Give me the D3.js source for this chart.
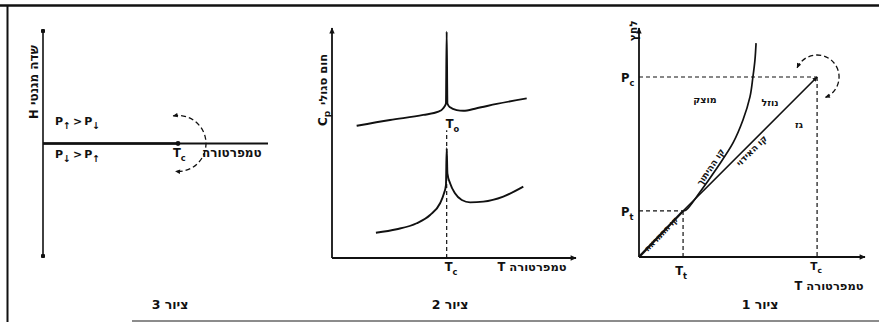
<!DOCTYPE html>
<html>
<head>
<meta charset="utf-8">
<script src="https://cdn.jsdelivr.net/npm/d3@7"></script>
<style>
  body { margin: 0; background: #fff; }
  svg { display: block; }
  text { font-family: "DejaVu Sans", "Liberation Sans", sans-serif; font-weight: bold; fill: #111; }
</style>
</head>
<body>
<svg id="chart" width="879" height="322"></svg>
<script>
// ---------------- data ----------------
// Fig. 1 – pressure / temperature phase diagram (schematic 0–100 units)
const triplePoint   = [19.5, 20.1];          // [T_t, P_t]
const criticalPoint = [78.8, 78.6];          // [T_c, P_c]
const sublimationLine = [[0, 0], [19.5, 20.1]];
const meltingCurve = [
  [19.5, 20.1], [20.8, 20.5], [27.0, 28.4], [34.5, 38.9], [41.6, 49.8],
  [46.0, 59.8], [49.1, 69.9], [50.4, 78.6], [51.3, 86.0], [51.8, 93.4]
];
const vaporizationLine = [[19.5, 20.1], [78.8, 78.6]];
const phaseNames  = ["מוצק", "נוזל", "גז"];
const phaseTemps  = [29.2, 58.0, 70.8];
const phasePress  = [68.6, 67.2, 57.6];
const lineNames   = ["קו ההמראה", "קו ההיתוך", "קו האידוי"];

// Fig. 2 – specific heat around the transition temperature
const transitionT = 47.0;
const cpUpper = [
  [10.1, 57.5], [23.8, 60.0], [37.4, 62.2], [43.6, 63.6], [45.6, 65.1], [46.7, 67.2],
  [47.0, 98.4],
  [47.3, 67.2], [48.4, 65.5], [51.1, 64.3], [53.8, 64.0], [59.3, 65.1], [67.5, 67.0], [79.8, 69.4]
];
const cpLower = [
  [18.0, 11.0], [26.5, 12.5], [34.7, 15.1], [40.2, 18.7], [44.3, 23.8], [45.9, 28.1], [46.7, 31.7],
  [47.0, 47.7],
  [47.3, 36.8], [48.4, 32.5], [50.4, 28.1], [53.2, 25.2], [56.6, 24.2], [62.0, 24.5], [70.2, 26.7], [78.4, 31.0]
];
const cpGuideTop = 55.5;

// Fig. 3 – magnetic field / temperature
const curieT = 60;            // T_c on a 0–100 temperature scale
const fieldLine = [[0, 0], [60, 0]];

// Texts
const captions = ["ציור 1", "ציור 2", "ציור 3"];
const axisTitleT = "טמפרטורה T";

// ---------------- drawing ----------------
const svg = d3.select("#chart");
const ink = "#111";

const defs = svg.append("defs");
defs.append("marker")
  .attr("id", "arrow").attr("viewBox", "0 0 10 10")
  .attr("refX", 9).attr("refY", 5)
  .attr("markerWidth", 7).attr("markerHeight", 6)
  .attr("markerUnits", "userSpaceOnUse")
  .attr("orient", "auto-start-reverse")
  .append("path").attr("d", "M0,0.5L10,5L0,9.5Z").attr("fill", ink);
defs.append("marker")
  .attr("id", "arrowSmall").attr("viewBox", "0 0 10 10")
  .attr("refX", 9).attr("refY", 5)
  .attr("markerWidth", 6).attr("markerHeight", 5)
  .attr("markerUnits", "userSpaceOnUse")
  .attr("orient", "auto-start-reverse")
  .append("path").attr("d", "M0,0.5L10,5L0,9.5Z").attr("fill", ink);
defs.append("marker")
  .attr("id", "dot").attr("viewBox", "0 0 10 10")
  .attr("refX", 5).attr("refY", 5)
  .attr("markerWidth", 4.5).attr("markerHeight", 4.5)
  .attr("markerUnits", "userSpaceOnUse")
  .append("circle").attr("cx", 5).attr("cy", 5).attr("r", 5).attr("fill", ink);

// page frame
svg.append("line").attr("x1", 0).attr("x2", 879).attr("y1", 5.5).attr("y2", 5.5)
  .attr("stroke", ink).attr("stroke-width", 2.5);
svg.append("line").attr("x1", 7.5).attr("x2", 7.5).attr("y1", 5).attr("y2", 322)
  .attr("stroke", ink).attr("stroke-width", 2);
svg.append("line").attr("x1", 132).attr("x2", 879).attr("y1", 321).attr("y2", 321)
  .attr("stroke", "#666").attr("stroke-width", 1.5);

// helpers
function axisLine(g, axis, translate, from, to, markerStart, markerEnd, width) {
  const a = g.append("g").attr("transform", translate).call(axis);
  const d = a.select(".domain")
    .attr("stroke", ink).attr("stroke-width", width || 1.8)
    .attr("d", from + to);
  if (markerStart) d.attr("marker-start", markerStart);
  if (markerEnd) d.attr("marker-end", markerEnd);
  return a;
}
function subLabel(g, x, y, base, s, size, anchor, drop) {
  const t = g.append("text").attr("x", x).attr("y", y)
    .attr("font-size", size).attr("text-anchor", anchor || "start");
  t.append("tspan").text(base);
  t.append("tspan").attr("dy", drop != null ? drop : size * 0.32).attr("font-size", size * 0.72).text(s);
  return t;
}
function rtlText(g, x, y, str, size, anchor) {
  return g.append("text").attr("x", x).attr("y", y)
    .attr("font-size", size).attr("direction", "rtl")
    .attr("text-anchor", anchor || "middle").text(str);
}
function dashed(g, x1, y1, x2, y2) {
  g.append("line").attr("x1", x1).attr("y1", y1).attr("x2", x2).attr("y2", y2)
    .attr("stroke", ink).attr("stroke-width", 1.2).attr("stroke-dasharray", "4,3");
}
function dashedArc(g, cx, cy, r, a0, a1) {
  const p = d3.path();
  p.arc(cx, cy, r, a0 * Math.PI / 180, a1 * Math.PI / 180, false);
  g.append("path").attr("d", p.toString()).attr("fill", "none")
    .attr("stroke", ink).attr("stroke-width", 1.3).attr("stroke-dasharray", "5,3")
    .attr("marker-start", "url(#arrowSmall)").attr("marker-end", "url(#arrowSmall)");
}

// ---------- Fig. 3 (left) ----------
{
  const g = svg.append("g");
  const x = d3.scaleLinear().domain([0, 100]).range([43, 268]);
  const y = d3.scaleLinear().domain([-1, 1]).range([256, 31]);
  axisLine(g, d3.axisLeft(y).tickValues([]).tickSizeOuter(0), `translate(${x(0)},0)`,
    `M0,${y.range()[0]}`, `V${y.range()[1]}`, "url(#dot)", "url(#dot)", 1.6);
  axisLine(g, d3.axisBottom(x).tickValues([]).tickSizeOuter(0), `translate(0,${y(0)})`,
    `M${x.range()[0]},0`, `H${x.range()[1]}`, null, null, 2.2);
  g.append("path").datum(fieldLine)
    .attr("d", d3.line().x(d => x(d[0])).y(d => y(d[1])))
    .attr("stroke", ink).attr("stroke-width", 2.6).attr("fill", "none");
  g.append("circle").attr("cx", x(curieT)).attr("cy", y(0)).attr("r", 2.4).attr("fill", ink);
  dashedArc(g, x(curieT), y(0), 28, -100, 95);

  // y title (rotated)
  const ty = g.append("g").attr("transform", `translate(38,119) rotate(-90)`);
  ty.append("text").attr("x", 0).attr("y", 0).attr("font-size", 11.5).text("H");
  ty.append("text").attr("x", 14).attr("y", 0).attr("font-size", 12).text("שדה מגנטי");

  // P↑ > P↓ / P↓ > P↑
  function pp(yb, a, b) {
    const t = g.append("text").attr("x", 55).attr("y", yb).attr("font-size", 11);
    t.append("tspan").text("P");
    t.append("tspan").attr("dy", 4).attr("font-size", 9.5).text(a);
    t.append("tspan").attr("dy", -4).attr("dx", 2).text(">");
    t.append("tspan").attr("dx", 2).text("P");
    t.append("tspan").attr("dy", 4).attr("font-size", 9.5).text(b);
  }
  pp(125, "↑", "↓");
  pp(158, "↓", "↑");

  subLabel(g, x(curieT) - 5, 157, "T", "c", 11.5);
  g.append("text").attr("x", 202).attr("y", 157).attr("font-size", 12).text("טמפרטורה");
  rtlText(g, 170, 309, captions[2], 12.5);
}

// ---------- Fig. 2 (middle) ----------
{
  const g = svg.append("g");
  const x = d3.scaleLinear().domain([0, 100]).range([332, 576]);
  const y = d3.scaleLinear().domain([0, 100]).range([258, 28]);
  axisLine(g, d3.axisLeft(y).tickValues([]).tickSizeOuter(0), `translate(${x(0)},0)`,
    `M0,${y.range()[0]}`, `V${y.range()[1]}`, null, "url(#arrow)", 1.8);
  axisLine(g, d3.axisBottom(x).tickValues([]).tickSizeOuter(0), `translate(0,${y(0)})`,
    `M${x.range()[0]},0`, `H${x.range()[1]}`, null, "url(#arrow)", 1.8);

  dashed(g, x(transitionT), y(0), x(transitionT), y(cpGuideTop));

  const line = d3.line().x(d => x(d[0])).y(d => y(d[1])).curve(d3.curveMonotoneX);
  g.append("path").datum(cpUpper).attr("d", line)
    .attr("fill", "none").attr("stroke", ink).attr("stroke-width", 1.9);
  g.append("path").datum(cpLower).attr("d", line)
    .attr("fill", "none").attr("stroke", ink).attr("stroke-width", 1.9);

  subLabel(g, x(transitionT) - 1, 128, "T", "o", 11.5);
  subLabel(g, x(transitionT) - 2, 271, "T", "c", 11.5);
  rtlText(g, 532, 271, axisTitleT, 11.5);

  const ty = g.append("g").attr("transform", `translate(327,126) rotate(-90)`);
  const c = ty.append("text").attr("x", 0).attr("y", 0).attr("font-size", 12);
  c.append("tspan").text("C");
  c.append("tspan").attr("dy", 3).attr("font-size", 9).text("p");
  ty.append("text").attr("x", 21).attr("y", 0).attr("font-size", 11.5).text("חום סגולי");

  rtlText(g, 450, 309, captions[1], 12.5);
}

// ---------- Fig. 1 (right) ----------
{
  const g = svg.append("g");
  const x = d3.scaleLinear().domain([0, 100]).range([639, 865]);
  const y = d3.scaleLinear().domain([0, 100]).range([257, 28]);
  axisLine(g, d3.axisLeft(y).tickValues([]).tickSizeOuter(0), `translate(${x(0)},0)`,
    `M0,${y.range()[0]}`, `V${y.range()[1]}`, null, "url(#arrow)", 1.8);
  axisLine(g, d3.axisBottom(x).tickValues([]).tickSizeOuter(0), `translate(0,${y(0)})`,
    `M${x.range()[0]},0`, `H${x.range()[1]}`, null, "url(#arrow)", 1.8);

  const [Tt, Pt] = triplePoint, [Tc, Pc] = criticalPoint;
  dashed(g, x(0), y(Pc), x(Tc), y(Pc));
  dashed(g, x(Tc), y(Pc), x(Tc), y(0));
  dashed(g, x(0), y(Pt), x(Tt), y(Pt));
  dashed(g, x(Tt), y(Pt), x(Tt), y(0));

  const straight = d3.line().x(d => x(d[0])).y(d => y(d[1]));
  g.append("path").datum(sublimationLine).attr("d", straight)
    .attr("fill", "none").attr("stroke", ink).attr("stroke-width", 2.4);
  g.append("path").datum(vaporizationLine).attr("d", straight)
    .attr("fill", "none").attr("stroke", ink).attr("stroke-width", 1.6)
    .attr("marker-end", "url(#arrowSmall)");
  g.append("path").datum(meltingCurve)
    .attr("d", d3.line().x(d => x(d[0])).y(d => y(d[1])).curve(d3.curveCatmullRom.alpha(0.5)))
    .attr("fill", "none").attr("stroke", ink).attr("stroke-width", 1.7);

  dashedArc(g, x(Tc), y(Pc), 22, -155, 68);

  // phase regions
  phaseNames.forEach((n, i) => {
    g.append("text").attr("x", x(phaseTemps[i])).attr("y", y(phasePress[i]) + 3)
      .attr("font-size", 9.5).attr("text-anchor", "middle").text(n);
  });

  // labels along the coexistence lines
  function along(p0, p1, f, offset, str, size) {
    const ax = x(p0[0]), ay = y(p0[1]), bx = x(p1[0]), by = y(p1[1]);
    const cx = ax + (bx - ax) * f, cy = ay + (by - ay) * f;
    const ang = Math.atan2(by - ay, bx - ax) * 180 / Math.PI;
    g.append("text").attr("transform", `translate(${cx},${cy}) rotate(${ang})`)
      .attr("y", offset).attr("font-size", size).attr("text-anchor", "middle").text(str);
  }
  along(sublimationLine[0], sublimationLine[1], 0.5, 3, lineNames[0], 8);
  along(meltingCurve[2], meltingCurve[4], 0.45, -2, lineNames[1], 9);
  along(vaporizationLine[0], vaporizationLine[1], 0.48, 9, lineNames[2], 9);

  subLabel(g, 621, y(Pc) + 5, "P", "c", 11.5);
  subLabel(g, 621, y(Pt) + 5, "P", "t", 11.5);
  subLabel(g, x(Tt) - 2, 275, "T", "t", 11.5, "middle");
  subLabel(g, x(Tc) - 1, 270, "T", "c", 10.5, "middle", 2.5);
  rtlText(g, 829, 290, axisTitleT, 11.5);

  const ty = g.append("g").attr("transform", `translate(637,41) rotate(-90)`);
  ty.append("text").attr("x", 0).attr("y", 0).attr("font-size", 10.5).text("לחץ");

  rtlText(g, 760, 309, captions[0], 12.5);
}
</script>
</body>
</html>
